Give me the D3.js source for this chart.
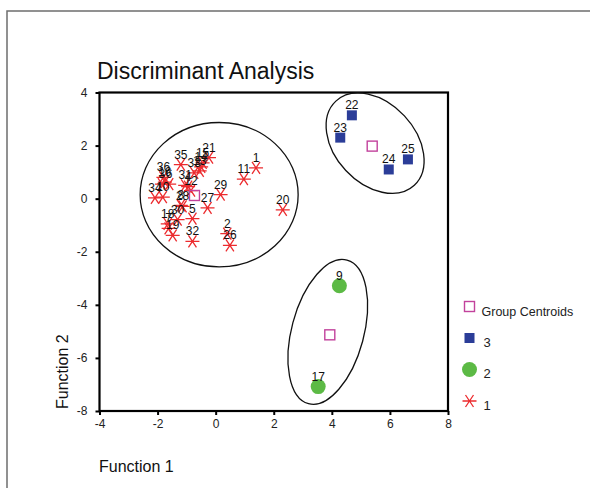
<!DOCTYPE html>
<html>
<head>
<meta charset="utf-8">
<script src="https://cdn.jsdelivr.net/npm/d3@7"></script>
<style>
    body { margin: 0; background: #fff; }
    text { font-family: Arial, "Liberation Sans", sans-serif; }
</style>
</head>
<body>
<div id="chart"></div>
<script>

// discriminant scores (Function 1, Function 2)
const group1Cases = [
    {id: 1,  f1: 1.39,  f2: 1.16},  {id: 2,  f1: 0.40,  f2: -1.32},
    {id: 3,  f1: -1.85, f2: 0.55},  {id: 4,  f1: -0.95, f2: 0.45},
    {id: 5,  f1: -0.80, f2: -0.75}, {id: 6,  f1: -1.60, f2: 0.55},
    {id: 7,  f1: -1.62, f2: -1.12}, {id: 8,  f1: -1.20, f2: -0.25},
    {id: 10, f1: -1.82, f2: 0.06},  {id: 11, f1: 0.97,  f2: 0.74},
    {id: 12, f1: -0.85, f2: 0.30},  {id: 13, f1: -0.55, f2: 1.05},
    {id: 14, f1: -0.50, f2: 1.20},  {id: 15, f1: -0.45, f2: 1.35},
    {id: 16, f1: -1.75, f2: 0.62},  {id: 18, f1: -1.65, f2: -0.95},
    {id: 19, f1: -1.48, f2: -1.38}, {id: 20, f1: 2.31,  f2: -0.42},
    {id: 21, f1: -0.23, f2: 1.55},  {id: 26, f1: 0.49,  f2: -1.76},
    {id: 27, f1: -0.28, f2: -0.35}, {id: 28, f1: -1.14, f2: -0.29},
    {id: 29, f1: 0.17,  f2: 0.15},  {id: 30, f1: -1.31, f2: -0.79},
    {id: 31, f1: -1.05, f2: 0.50},  {id: 32, f1: -0.80, f2: -1.61},
    {id: 33, f1: -0.74, f2: 0.97},  {id: 34, f1: -2.09, f2: 0.03},
    {id: 35, f1: -1.20, f2: 1.28},  {id: 36, f1: -1.80, f2: 0.80}
];

const group2Cases = [
    {id: 9,  f1: 4.26, f2: -3.28},
    {id: 17, f1: 3.53, f2: -7.08}
];

const group3Cases = [
    {id: 22, f1: 4.69, f2: 3.14},
    {id: 23, f1: 4.29, f2: 2.30},
    {id: 24, f1: 5.96, f2: 1.10},
    {id: 25, f1: 6.62, f2: 1.48}
];

const groupCentroids = [
    {group: 1, f1: -0.73, f2: 0.12},
    {group: 2, f1: 3.93,  f2: -5.13},
    {group: 3, f1: 5.39,  f2: 1.98}
];

// hand drawn group outlines (data units, angle in screen degrees)
const groupOutlines = [
    {cx: 0.12, cy: 0.15,  rx: 2.72, ry: 2.72, angle: 0},
    {cx: 3.86, cy: -5.02, rx: 2.56, ry: 1.36, angle: -75},
    {cx: 5.49, cy: 2.09,  rx: 1.98, ry: 1.51, angle: 47}
];

const xTicks = [-4, -2, 0, 2, 4, 6, 8];
const yTicks = [4, 2, 0, -2, -4, -6, -8];
const legendLabels = ['Group Centroids', '3', '2', '1'];


const scatter_thing = (targetEl) => {

    const width  = 590,
          height = 488;

    const red     = '#ec2b2e',
          blue    = '#2b3d98',
          green   = '#5cba45',
          magenta = '#c2429c';

    const svg = d3.select(targetEl)
        .append('svg')
          .attr('width',  width)
          .attr('height', height);

    // outer frame of the figure
    svg.append('rect')
        .attr('x', 7)
        .attr('y', 11)
        .attr('width',  width + 20)
        .attr('height', height + 20)
        .attr('fill', 'none')
        .attr('stroke', '#6e6e6e')
        .attr('stroke-width', 1.5);

    const x = d3.scaleLinear().domain([-4, 8]).range([99.5, 448]);
    const y = d3.scaleLinear().domain([-8, 4]).range([411, 92.5]);

    // plain hyphen minus, as in the original
    const fmt = d => String(d);

    // title
    svg.append('text')
        .attr('x', 97)
        .attr('y', 79)
        .style('font-size', '23px')
        .attr('fill', '#111')
        .text('Discriminant Analysis');

    // axes
    svg.append('g')
        .attr('transform', `translate(0, ${y(-8)})`)
        .call(d3.axisBottom(x).tickValues(xTicks).tickFormat(fmt).tickSize(4).tickPadding(4))
        .call(g => g.select('.domain').remove())
        .call(g => g.selectAll('line').attr('stroke-width', 2))
        .call(g => g.selectAll('text')
            .style('font-size', '12px')
            .attr('fill', '#222')
            .attr('font-family', 'Arial, "Liberation Sans", sans-serif'));

    svg.append('g')
        .attr('transform', `translate(${x(-4)}, 0)`)
        .call(d3.axisLeft(y).tickValues(yTicks).tickFormat(fmt).tickSize(4).tickPadding(8))
        .call(g => g.select('.domain').remove())
        .call(g => g.selectAll('line').attr('stroke-width', 2))
        .call(g => g.selectAll('text')
            .style('font-size', '12px')
            .attr('fill', '#222')
            .attr('font-family', 'Arial, "Liberation Sans", sans-serif'));

    // plot box
    svg.append('rect')
        .attr('x', x(-4))
        .attr('y', y(4))
        .attr('width',  x(8) - x(-4))
        .attr('height', y(-8) - y(4))
        .attr('fill', 'none')
        .attr('stroke', '#000')
        .attr('stroke-width', 2.2);

    // axis titles
    svg.append('text')
        .attr('x', 99)
        .attr('y', 472)
        .style('font-size', '16px')
        .attr('fill', '#111')
        .text('Function 1');

    svg.append('text')
        .attr('transform', 'translate(68, 409) rotate(-90)')
        .style('font-size', '16px')
        .attr('fill', '#111')
        .text('Function 2');

    // group outlines
    svg.selectAll('.outline')
        .data(groupOutlines)
        .enter()
        .append('ellipse')
          .attr('class', 'outline')
          .attr('cx', 0)
          .attr('cy', 0)
          .attr('rx', d => x(d.cx + d.rx) - x(d.cx))
          .attr('ry', d => y(d.cy) - y(d.cy + d.ry))
          .attr('transform', d => `translate(${x(d.cx)}, ${y(d.cy)}) rotate(${d.angle})`)
          .attr('fill', 'none')
          .attr('stroke', '#111')
          .attr('stroke-width', 1.3);

    // asterisk marker for group 1
    const star = 'M-7,0H7M-4,-6L4,6M-4,6L4,-6';

    svg.append('g')
        .selectAll('path')
        .data(group1Cases)
        .enter()
        .append('path')
          .attr('d', star)
          .attr('transform', d => `translate(${x(d.f1)}, ${y(d.f2)})`)
          .attr('fill', 'none')
          .attr('stroke', red)
          .attr('stroke-width', 1.3);

    svg.append('g')
        .selectAll('circle')
        .data(group2Cases)
        .enter()
        .append('circle')
          .attr('cx', d => x(d.f1))
          .attr('cy', d => y(d.f2))
          .attr('r', 7.5)
          .attr('fill', green);

    svg.append('g')
        .selectAll('rect')
        .data(group3Cases)
        .enter()
        .append('rect')
          .attr('x', d => x(d.f1) - 5)
          .attr('y', d => y(d.f2) - 5)
          .attr('width', 10)
          .attr('height', 10)
          .attr('fill', blue);

    svg.append('g')
        .selectAll('rect')
        .data(groupCentroids)
        .enter()
        .append('rect')
          .attr('x', d => x(d.f1) - 5)
          .attr('y', d => y(d.f2) - 5)
          .attr('width', 10)
          .attr('height', 10)
          .attr('fill', d => d.group === 1 ? 'none' : '#fff')
          .attr('stroke', magenta)
          .attr('stroke-width', 1.4);

    // case labels sit just above each marker
    const cases = group1Cases.concat(group2Cases, group3Cases);
    svg.append('g')
        .selectAll('text')
        .data(cases)
        .enter()
        .append('text')
          .attr('x', d => x(d.f1))
          .attr('y', d => y(d.f2) - 6)
          .attr('text-anchor', 'middle')
          .style('font-size', '12px')
          .attr('fill', '#111')
          .text(d => d.id);

    // legend
    const legend = svg.selectAll('.legend')
        .data(legendLabels)
        .enter()
        .append('g')
        .attr('class', 'legend')
        .attr('transform', (d, i) => `translate(469.5, ${[306.5, 338, 369.5, 401][i]})`);

    legend.each(function (d, i) {
        const g = d3.select(this);
        if (i === 0) {
            g.append('rect')
                .attr('x', -5).attr('y', -5)
                .attr('width', 10).attr('height', 10)
                .attr('fill', '#fff')
                .attr('stroke', magenta)
                .attr('stroke-width', 1.4);
        } else if (i === 1) {
            g.append('rect')
                .attr('x', -5).attr('y', -5)
                .attr('width', 10).attr('height', 10)
                .attr('fill', blue);
        } else if (i === 2) {
            g.append('circle')
                .attr('r', 7.5)
                .attr('fill', green);
        } else {
            g.append('path')
                .attr('d', star)
                .attr('fill', 'none')
                .attr('stroke', red)
                .attr('stroke-width', 1.3);
        }
    });

    legend.append('text')
        .attr('x', (d, i) => i === 0 ? 12 : 14)
        .attr('y', (d, i) => i === 0 ? 9 : 8.5)
        .style('font-size', (d, i) => i === 0 ? '12.5px' : '13px')
        .attr('fill', '#222')
        .text(d => d);
};

scatter_thing('#chart');

</script>
</body>
</html>
